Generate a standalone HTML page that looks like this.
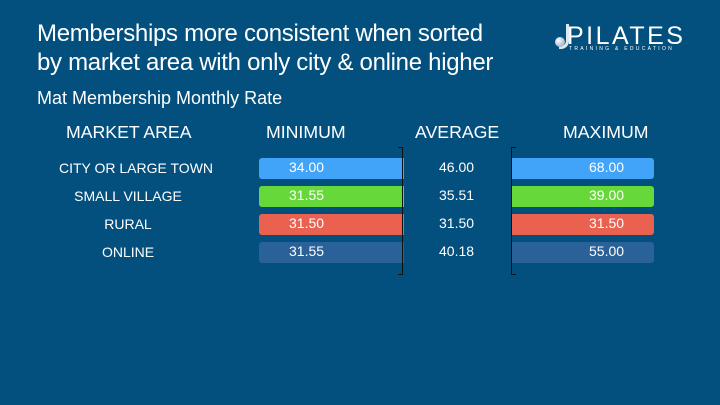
<!DOCTYPE html><html><head><style>
body{margin:0;width:720px;height:405px;background:#03507f;font-family:"Liberation Sans",sans-serif;color:#fff;position:relative;overflow:hidden}
.a{position:absolute;white-space:nowrap}
.bar{position:absolute;height:21px;border-radius:3px}
.n{position:absolute;font-size:14px;line-height:21px}
.c{font-size:14px;width:170px;text-align:center}
</style></head><body>
<div class="a" style="left:37px;top:19px;font-size:24px;line-height:29px;letter-spacing:-0.3px">Memberships more consistent when sorted<br>by market area with only city &amp; online higher</div>
<div class="a" style="left:37px;top:88px;font-size:18px">Mat Membership Monthly Rate</div>
<div class="a" style="left:567px;top:22px;font-size:25px;letter-spacing:2.5px">PILATES</div>
<div class="a" style="left:569px;top:46px;font-size:5px;letter-spacing:2.3px">TRAINING &amp; EDUCATION</div>
<div class="a" style="left:559px;top:24px;width:7px;height:22px;border-right:3px solid #dfe8ef;border-bottom:3px solid #dfe8ef;border-bottom-right-radius:8px"></div>
<div class="a" style="left:555px;top:37px;width:10px;height:10px;border-radius:50%;background:radial-gradient(circle at 35% 35%,#fff,#7a9ab8)"></div>
<div class="a" style="left:66px;top:122px;font-size:17.7px">MARKET AREA</div>
<div class="a" style="left:266px;top:122px;font-size:17.7px">MINIMUM</div>
<div class="a" style="left:415px;top:122px;font-size:17.7px">AVERAGE</div>
<div class="a" style="left:563px;top:122px;font-size:17.7px">MAXIMUM</div>
<div class="a c" style="left:51px;top:160px">CITY OR LARGE TOWN</div>
<div class="a c" style="left:43px;top:188px">SMALL VILLAGE</div>
<div class="a c" style="left:43px;top:216px">RURAL</div>
<div class="a c" style="left:43px;top:244px">ONLINE</div>
<div class="bar" style="left:259px;top:158px;width:145px;background:#42a4f8;border-radius:3px 0 0 3px"></div>
<div class="bar" style="left:259px;top:186px;width:145px;background:#66d83a;border-radius:3px 0 0 3px"></div>
<div class="bar" style="left:259px;top:214px;width:145px;background:#ea6150;border-radius:3px 0 0 3px"></div>
<div class="bar" style="left:259px;top:242px;width:145px;background:#2a6198;border-radius:3px 0 0 3px"></div>
<div class="bar" style="left:511px;top:158px;width:143px;background:#42a4f8;border-radius:0 3px 3px 0"></div>
<div class="bar" style="left:511px;top:186px;width:143px;background:#66d83a;border-radius:0 3px 3px 0"></div>
<div class="bar" style="left:511px;top:214px;width:143px;background:#ea6150;border-radius:0 3px 3px 0"></div>
<div class="bar" style="left:511px;top:242px;width:143px;background:#2a6198;border-radius:0 3px 3px 0"></div>
<div class="a" style="left:398px;top:147px;width:4px;height:126px;border:1px solid #111;border-left:none"></div>
<div class="a" style="left:511px;top:147px;width:4px;height:126px;border:1px solid #111;border-right:none"></div>
<div class="n" style="left:289px;top:157px">34.00</div><div class="n" style="left:439px;top:157px">46.00</div><div class="n" style="left:589px;top:157px">68.00</div>
<div class="n" style="left:289px;top:185px">31.55</div><div class="n" style="left:439px;top:185px">35.51</div><div class="n" style="left:589px;top:185px">39.00</div>
<div class="n" style="left:289px;top:213px">31.50</div><div class="n" style="left:439px;top:213px">31.50</div><div class="n" style="left:589px;top:213px">31.50</div>
<div class="n" style="left:289px;top:241px">31.55</div><div class="n" style="left:439px;top:241px">40.18</div><div class="n" style="left:589px;top:241px">55.00</div>
</body></html>
